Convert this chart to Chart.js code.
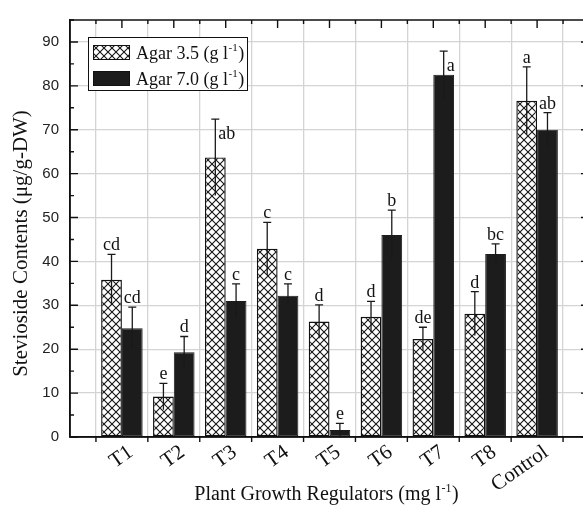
<!DOCTYPE html>
<html>
<head>
<meta charset="utf-8">
<script src="https://cdn.jsdelivr.net/npm/chart.js@4/dist/chart.umd.min.js"></script>
<style>
  html, body { margin: 0; padding: 0; background: #fff; overflow: hidden; }
  #wrap { width: 600px; height: 508px; }
</style>
</head>
<body>
<div id="wrap"><canvas id="c" width="600" height="508"></canvas></div>
<script>
// ---- data ----
const categories = ['T1', 'T2', 'T3', 'T4', 'T5', 'T6', 'T7', 'T8', 'Control'];
const agar35 = [35.8, 9.2, 63.7, 42.9, 26.3, 27.4, 22.3, 28.1, 76.6];
const agar70 = [24.8, 19.3, 31.0, 32.2, 1.6, 46.0, 82.5, 41.7, 70.0];
const err35 = [5.8, 3.0, 8.7, 6.0, 3.8, 3.5, 2.7, 5.0, 7.7];
const err70 = [4.8, 3.6, 3.9, 2.7, 1.5, 5.7, 5.4, 2.3, 3.9];
const letters35 = ['cd', 'e', 'ab', 'c', 'd', 'd', 'de', 'd', 'a'];
const letters70 = ['cd', 'd', 'c', 'c', 'e', 'b', 'a', 'bc', 'ab'];
const yTicks = [0, 10, 20, 30, 40, 50, 60, 70, 80, 90];
const seriesNames = ['Agar 3.5 (g l', 'Agar 7.0 (g l'];

const canvas = document.getElementById('c');
const ctx = canvas.getContext('2d');

function makeHatch() {
  const s = 8;
  const c = document.createElement('canvas');
  c.width = s; c.height = s;
  const g = c.getContext('2d');
  g.fillStyle = '#fff'; g.fillRect(0, 0, s, s);
  g.strokeStyle = '#151515'; g.lineWidth = 1.1;
  g.beginPath();
  g.moveTo(-1, -1); g.lineTo(s + 1, s + 1);
  g.moveTo(s + 1, -1); g.lineTo(-1, s + 1);
  g.stroke();
  return ctx.createPattern(c, 'repeat');
}
const hatch = makeHatch();
const BLACK = '#1c1c1c';
const SERIF = '"Liberation Serif", "Times New Roman", serif';
const SANS = '"Liberation Sans", Arial, sans-serif';

// draw text with superscript "-1" then ")"
function drawSupText(c, base, sup, tail, x, y, size, align) {
  c.save();
  c.textBaseline = 'alphabetic';
  c.textAlign = 'left';
  const f1 = size + 'px ' + SERIF;
  const f2 = Math.round(size * 0.6) + 'px ' + SERIF;
  c.font = f1; const w1 = c.measureText(base).width; const w3 = c.measureText(tail).width;
  c.font = f2; const w2 = c.measureText(sup).width;
  const total = w1 + w2 + w3 + 1;
  let sx = align === 'center' ? x - total / 2 : x;
  c.fillStyle = '#111';
  c.font = f1; c.fillText(base, sx, y);
  c.font = f2; c.fillText(sup, sx + w1 + 0.5, y - size * 0.42);
  c.font = f1; c.fillText(tail, sx + w1 + w2 + 1, y);
  c.restore();
}

const decor = {
  id: 'decor',
  afterDatasetsDraw(chart) {
    const c = chart.ctx;
    const ys = chart.scales.y;
    const errs = [err35, err70];
    const lets = [letters35, letters70];
    const vals = [agar35, agar70];
    // letters placed to the right of the error bar instead of above
    const side = { '0-2': true, '1-6': true };
    c.save();
    c.strokeStyle = '#1a1a1a';
    c.lineWidth = 1.3;
    for (let d = 0; d < 2; d++) {
      const meta = chart.getDatasetMeta(d);
      meta.data.forEach((bar, i) => {
        const x = bar.x;
        const yHi = ys.getPixelForValue(vals[d][i] + errs[d][i]);
        const yLo = ys.getPixelForValue(Math.max(0, vals[d][i] - errs[d][i]));
        c.beginPath();
        c.moveTo(x, yLo); c.lineTo(x, yHi);
        c.moveTo(x - 4, yHi); c.lineTo(x + 4, yHi);
        c.stroke();
        c.fillStyle = '#111';
        c.font = '18px ' + SERIF;
        if (side[d + '-' + i]) {
          c.textAlign = 'left'; c.textBaseline = 'alphabetic';
          c.fillText(lets[d][i], x + 3, yHi + 20);
        } else {
          c.textAlign = 'center'; c.textBaseline = 'alphabetic';
          c.fillText(lets[d][i], x, yHi - 4);
        }
      });
    }
    c.restore();
  },
  afterDraw(chart) {
    const c = chart.ctx;
    const { left, right, top, bottom } = chart.chartArea;
    const xs = chart.scales.x, ys = chart.scales.y;
    c.save();
    c.strokeStyle = '#111';
    c.lineWidth = 1.5;
    c.strokeRect(left, top, right - left, bottom - top);
    c.lineWidth = 1.4;
    c.beginPath();
    // y ticks (inward, both sides), major every 10, minor every 5
    for (let v = 0; v <= ys.max; v += 5) {
      const y = ys.getPixelForValue(v);
      const len = v % 10 === 0 ? 8 : 4;
      c.moveTo(left, y); c.lineTo(left + len, y);
      c.moveTo(right, y); c.lineTo(right - len, y);
    }
    // top ticks: major at categories, minor in between
    for (let v = 0.5; v < xs.max; v += 0.5) {
      const x = xs.getPixelForValue(v);
      const len = Number.isInteger(v) ? 8 : 4;
      c.moveTo(x, top); c.lineTo(x, top + len);
    }
    // bottom ticks between categories (outward)
    for (let v = 0.5; v < xs.max; v += 1) {
      const x = xs.getPixelForValue(v);
      c.moveTo(x, bottom); c.lineTo(x, bottom + 5);
    }
    c.stroke();

    // legend
    const lx = left + 18, ly = top + 17, lw = 159, lh = 53;
    c.fillStyle = '#fff';
    c.fillRect(lx, ly, lw, lh);
    c.lineWidth = 1;
    c.strokeStyle = '#111';
    c.strokeRect(lx + 0.5, ly + 0.5, lw, lh);
    const fills = [hatch, BLACK];
    for (let k = 0; k < 2; k++) {
      const sy = ly + 8 + k * 26;
      c.fillStyle = fills[k];
      c.fillRect(lx + 5, sy, 37, 15);
      c.strokeStyle = '#111';
      c.strokeRect(lx + 5.5, sy + 0.5, 36, 14);
      drawSupText(c, seriesNames[k], '-1', ')', lx + 48, sy + 14, 18, 'left');
    }

    // x title
    drawSupText(c, 'Plant Growth Regulators (mg l', '-1', ')', (left + right) / 2 - 3, 500, 20, 'center');

    // y title
    c.translate(21, (top + bottom) / 2 + 15);
    c.rotate(-Math.PI / 2);
    c.fillStyle = '#111';
    c.font = '21px ' + SERIF;
    c.textAlign = 'center';
    c.textBaseline = 'middle';
    c.fillText('Stevioside Contents (\u03bcg/g-DW)', 0, 0);
    c.restore();
  }
};

new Chart(ctx, {
  type: 'bar',
  data: {
    datasets: [
      {
        label: seriesNames[0],
        data: agar35.map((v, i) => ({ x: i + 1, y: v })),
        backgroundColor: hatch,
        borderColor: '#111',
        borderWidth: 1.4,
        borderSkipped: false,
        categoryPercentage: 0.8,
        barPercentage: 1.0
      },
      {
        label: seriesNames[1],
        data: agar70.map((v, i) => ({ x: i + 1, y: v })),
        backgroundColor: BLACK,
        borderColor: BLACK,
        borderWidth: 1,
        borderSkipped: false,
        categoryPercentage: 0.8,
        barPercentage: 1.0
      }
    ]
  },
  options: {
    responsive: false,
    animation: false,
    devicePixelRatio: 1,
    layout: { padding: { top: 13, right: 11, left: 0, bottom: 0 } },
    plugins: { legend: { display: false }, tooltip: { enabled: false }, title: { display: false } },
    scales: {
      x: {
        type: 'linear',
        min: 0,
        max: 10,
        offset: false,
        afterBuildTicks: s => { s.ticks = categories.map((c, i) => ({ value: i + 1 })); },
        afterFit: s => { s.height = 71; },
        grid: { color: '#d4d4d4', lineWidth: 1.3, drawTicks: false },
        border: { display: true, color: '#111', width: 1.5 },
        ticks: {
          autoSkip: false,
          maxRotation: 35,
          minRotation: 35,
          padding: 3,
          labelOffset: 9,
          color: '#111',
          font: { family: SERIF, size: 21 },
          callback: v => categories[Math.round(v) - 1] || ''
        }
      },
      y: {
        min: 0,
        max: 95,
        afterBuildTicks: s => { s.ticks = yTicks.map(v => ({ value: v })); },
        afterFit: s => { s.width = 70; },
        grid: {
          color: c => (c.tick && c.tick.value === 0) ? 'rgba(0,0,0,0)' : '#d4d4d4',
          lineWidth: 1.3,
          drawTicks: false
        },
        border: { display: true, color: '#111', width: 1.5 },
        ticks: {
          padding: 11,
          color: '#222',
          font: { family: SANS, size: 15 },
          callback: v => String(v)
        }
      }
    }
  },
  plugins: [decor]
});
</script>
</body>
</html>
